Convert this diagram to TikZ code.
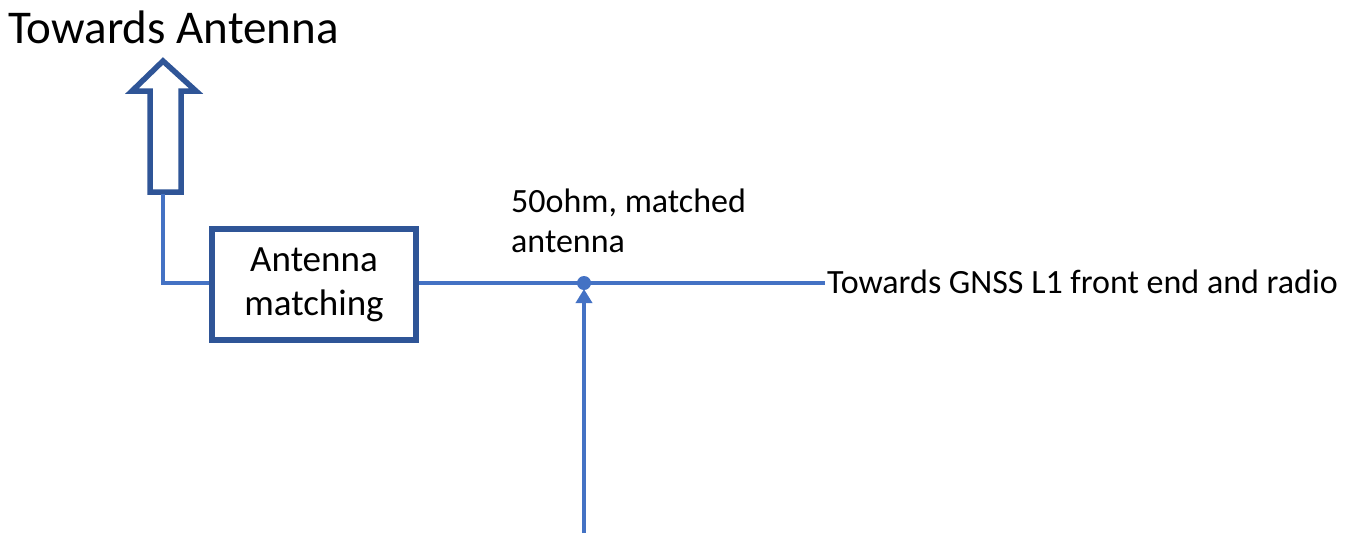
\documentclass[tikz,border=0pt]{standalone}
\usepackage{fontspec}
\setmainfont{Carlito}
\usetikzlibrary{arrows.meta}
\definecolor{darkblue}{HTML}{2F5597}
\definecolor{lineblue}{HTML}{4472C4}
\tikzset{
  wire/.style={draw=lineblue, line width=3.5pt},
  blockarrow/.style={draw=darkblue, line width=5.5pt, fill=white, line join=miter},
  matchbox/.style={draw=darkblue, line width=5.5pt, fill=white, minimum width=204pt, minimum height=111pt, align=center, font=\fontsize{37}{44}\selectfont, inner sep=0pt},
  lbl/.style={font=\fontsize{34}{40}\selectfont, inner sep=0pt, text=black},
}
\begin{document}
\begin{tikzpicture}[x=1pt,y=-1pt]
\useasboundingbox (0,0) rectangle (1355,533);
% title
\node[lbl, anchor=base west, font=\fontsize{47}{52}\selectfont] (title) at (8,43) {Towards Antenna};
% block arrow
\draw[blockarrow] (150,192) -- (150,91) -- (132,91) -- (163,61) -- (196,91) -- (181,91) -- (181,192) -- cycle;
\coordinate (arrbot) at (163,194);
% box
\node[matchbox] (box) at (314,284.5) {Antenna\\matching};
\coordinate (corner) at (163,283);
\draw[wire] (arrbot) -- (corner) -- (box.west |- corner);
% junction
\coordinate (junc) at (584,283);
\coordinate (wend) at (825,283);
\draw[wire] (box.east |- junc) -- (wend);
\fill[lineblue] (junc) circle (7pt);
\coordinate (bottom) at (584,533);
\draw[wire, -{Triangle[length=14pt,width=16pt]}] (bottom) -- (584,289);
% labels
\node[lbl, anchor=base west] (gnss) at (827,293) {Towards GNSS L1 front end and radio};
\node[lbl, anchor=base west] (match1) at (511,212) {50ohm, matched};
\node[lbl, anchor=base west] (match2) at (511,252) {antenna};
\end{tikzpicture}
\end{document}
